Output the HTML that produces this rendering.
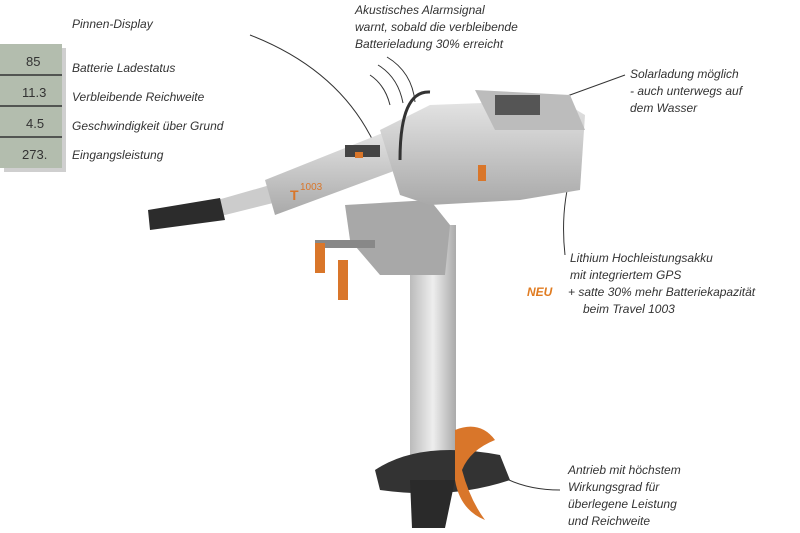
<!DOCTYPE html><html><head><style>body{margin:0;background:#fff}svg{display:block}text{font-family:"Liberation Sans",sans-serif;font-style:italic;font-size:12px;fill:#333}text.d{font-style:normal;font-size:13px;fill:#333}</style></head><body>
<svg width="800" height="533" viewBox="0 0 800 533">
<defs><linearGradient id="g" x1="0" y1="0" x2="0" y2="1"><stop offset="0" stop-color="#e4e4e4"/><stop offset="1" stop-color="#a9a9a9"/></linearGradient>
<linearGradient id="s" x1="0" x2="1"><stop offset="0" stop-color="#bbb"/><stop offset=".5" stop-color="#eee"/><stop offset="1" stop-color="#aaa"/></linearGradient></defs>
<rect x="4" y="48" width="62" height="124" fill="#888" opacity=".4"/>
<rect x="0" y="44" width="62" height="124" fill="#b3bdae"/>
<g stroke="#333" stroke-width="1.5"><line x1="0" y1="75" x2="62" y2="75"/><line x1="0" y1="106" x2="62" y2="106"/><line x1="0" y1="137" x2="62" y2="137"/></g>
<text class="d" x="26" y="66">85</text><text class="d" x="22" y="97">11.3</text><text class="d" x="26" y="128">4.5</text><text class="d" x="22" y="159">273.</text>
<text x="72" y="28">Pinnen-Display</text>
<text x="72" y="72">Batterie Ladestatus</text><text x="72" y="101">Verbleibende Reichweite</text><text x="72" y="130">Geschwindigkeit über Grund</text><text x="72" y="159">Eingangsleistung</text>
<text x="355" y="14">Akustisches Alarmsignal</text><text x="355" y="31">warnt, sobald die verbleibende</text><text x="355" y="48">Batterieladung 30% erreicht</text>
<text x="630" y="78">Solarladung möglich</text><text x="630" y="95">- auch unterwegs auf</text><text x="630" y="112">dem Wasser</text>
<text x="570" y="262">Lithium Hochleistungsakku</text><text x="570" y="279">mit integriertem GPS</text><text x="527" y="296" style="fill:#e07b20;font-weight:bold">NEU</text><text x="568" y="296">+ satte 30% mehr Batteriekapazität</text><text x="583" y="313">beim Travel 1003</text>
<text x="568" y="474">Antrieb mit höchstem</text><text x="568" y="491">Wirkungsgrad für</text><text x="568" y="508">überlegene Leistung</text><text x="568" y="525">und Reichweite</text>
<g fill="none" stroke="#333" stroke-width="1"><path d="M250 35 Q340 70 375 145"/><path d="M625 75 Q570 95 515 115"/><path d="M565 255 Q560 210 572 170"/><path d="M560 490 Q510 490 480 460"/><path d="M370 75 q15 10 20 30 M378 65 q20 12 25 38 M387 57 q25 15 28 45"/></g>
<rect x="410" y="225" width="46" height="250" fill="url(#s)"/>
<path d="M375 470 Q420 440 500 455 L510 480 Q450 500 380 490Z" fill="#333"/>
<path d="M410 480 L455 480 L445 528 L412 528Z" fill="#2a2a2a"/>
<path d="M455 430 Q480 420 495 440 Q470 450 462 470 Q470 500 485 520 Q460 510 455 480Z" fill="#d9762a"/>
<path d="M345 205 L430 200 L450 225 L445 275 L380 275 L350 240Z" fill="#a8a8a8"/>
<rect x="315" y="240" width="60" height="8" fill="#888"/>
<rect x="315" y="243" width="10" height="30" fill="#d9762a"/><rect x="338" y="260" width="10" height="40" fill="#d9762a"/>
<path d="M200 205 L270 185 L285 200 L205 220Z" fill="#ccc"/>
<path d="M148 210 L220 198 L225 220 L150 230Z" fill="#2c2c2c"/>
<path d="M265 180 L390 130 L410 165 L275 215Z" fill="url(#g)"/>
<path d="M380 130 L430 105 L560 100 L585 115 L580 190 L520 200 L430 205 L400 195Z" fill="url(#g)"/>
<path d="M475 90 L570 95 L585 130 L495 130Z" fill="#bcbcbc"/>
<rect x="495" y="95" width="45" height="20" fill="#555"/>
<rect x="345" y="145" width="35" height="12" fill="#444"/>
<rect x="355" y="152" width="8" height="6" fill="#d9762a"/>
<rect x="478" y="165" width="8" height="16" fill="#d9762a"/>
<path d="M400 160 Q400 90 430 92" fill="none" stroke="#333" stroke-width="3"/>
<text x="290" y="200" style="font-style:normal;font-weight:bold;fill:#d9762a;font-size:14px">T</text><text x="300" y="190" style="font-style:normal;font-size:10px;fill:#d9762a">1003</text>
</svg></body></html>
